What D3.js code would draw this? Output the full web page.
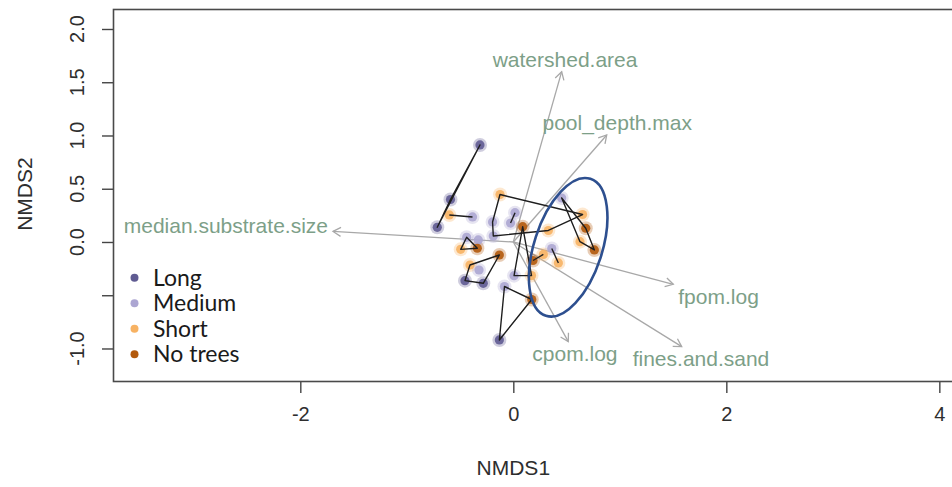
<!DOCTYPE html>
<html>
<head>
<meta charset="utf-8">
<script src="https://cdn.jsdelivr.net/npm/d3@7"></script>
<style>
  body { margin: 0; background: #fff; }
  svg { display: block; }
</style>
</head>
<body>
<script>
// site scores (NMDS1, NMDS2) and their canopy group
const siteX = [-0.313, -0.590, -0.714, -0.601, -0.383, -0.125, 0.016, -0.026, -0.195, -0.188,
               0.088, 0.454, 0.650, 0.680, 0.626, 0.761, 0.329, -0.438, -0.329, -0.494,
               -0.338, -0.407, -0.131, -0.322, -0.454, -0.282, 0.361, 0.423, 0.282, 0.185,
               0.007, 0.171, -0.083, -0.131, 0.173];
const siteY = [0.911, 0.399, 0.138, 0.254, 0.235, 0.446, 0.275, 0.178, 0.188, 0.056,
               0.144, 0.413, 0.258, 0.129, 0.003, -0.075, 0.108, 0.044, 0.019, -0.069,
               -0.059, -0.216, -0.122, -0.263, -0.363, -0.388, -0.061, -0.197, -0.117, -0.174,
               -0.316, -0.315, -0.418, -0.920, -0.540];
const siteGroup = ["Long", "Long", "Long", "Short", "Medium", "Short", "Medium", "Medium", "Medium", "Medium",
                   "No trees", "Medium", "Short", "No trees", "Short", "No trees", "Short", "Medium", "Medium", "Short",
                   "No trees", "Short", "No trees", "Medium", "Long", "Long", "Medium", "Short", "Short", "No trees",
                   "Medium", "Short", "Medium", "Long", "No trees"];
// hulls joining samples from the same stream
const hulls = [[0, 1, 2], [3, 4], [6, 7], [5, 12, 16, 9, 8], [11, 13, 15, 14],
               [10, 30, 31], [19, 20, 17], [21, 22, 25, 24], [32, 33, 34], [26, 27], [28, 29]];

// envfit vectors
const vecNames = ["watershed.area", "pool_depth.max", "median.substrate.size", "fpom.log", "fines.and.sand", "cpom.log"];
const vecX = [0.454, 0.877, -1.693, 1.502, 1.581, 0.516];
const vecY = [1.599, 1.005, 0.099, -0.397, -0.983, -0.936];

const groups = ["Long", "Medium", "Short", "No trees"];
const xTicks = [-2, 0, 2, 4];
const yTicks = [-1, -0.5, 0, 0.5, 1, 1.5, 2];
const yTickLabels = ["-1.0", "", "0.0", "0.5", "1.0", "1.5", "2.0"];

const W = 952, H = 487;
const box = {left: 113.5, right: 960, top: 9.5, bottom: 381.5};
const xLim = [-3.754, 4.194], yLim = [-1.31, 2.183];
const colour = d3.scaleOrdinal().domain(groups).range(["#5f5b92", "#aca6d2", "#f7b263", "#b35a0c"]);

const svg = d3.select("body").append("svg").attr("width", W).attr("height", H);
const x = d3.scaleLinear().domain(xLim).range([box.left, box.right]);
const y = d3.scaleLinear().domain(yLim).range([box.bottom, box.top]);

const axisFont = "'Liberation Sans', Arial, sans-serif";

// x axis
const gx = svg.append("g").attr("transform", `translate(0,${box.bottom})`)
  .call(d3.axisBottom(x).tickValues(xTicks).tickFormat(d => d).tickSize(11.5).tickPadding(14));
gx.select(".domain").remove();
gx.selectAll("line").attr("stroke", "#444").attr("stroke-width", 1.4);
gx.selectAll("text").attr("font-family", axisFont).attr("font-size", 20).attr("fill", "#2e2e2e");

// y axis, labels parallel to the axis like R
const gy = svg.append("g").attr("transform", `translate(${box.left},0)`)
  .call(d3.axisLeft(y).tickValues(yTicks).tickFormat("").tickSize(11.5));
gy.select(".domain").remove();
gy.selectAll("line").attr("stroke", "#444").attr("stroke-width", 1.4);
svg.append("g").selectAll("text").data(yTicks).join("text")
  .attr("transform", d => `translate(77,${y(d)}) rotate(-90)`)
  .attr("text-anchor", "middle").attr("dy", "0.35em")
  .attr("font-family", axisFont).attr("font-size", 20).attr("fill", "#2e2e2e")
  .text((d, i) => yTickLabels[i]);

// axis titles
svg.append("text").attr("x", x(0)).attr("y", 468).attr("dy", "0.35em")
  .attr("text-anchor", "middle").attr("font-family", axisFont).attr("font-size", 21).attr("fill", "#2e2e2e")
  .text("NMDS1");
svg.append("text").attr("transform", `translate(25,${y(0.45)}) rotate(-90)`).attr("dy", "0.35em")
  .attr("text-anchor", "middle").attr("font-family", axisFont).attr("font-size", 21).attr("fill", "#2e2e2e")
  .text("NMDS2");

// plot region
const plot = svg.append("g");
svg.append("defs").append("clipPath").attr("id", "clip")
  .append("rect").attr("x", box.left).attr("y", box.top)
  .attr("width", box.right - box.left).attr("height", box.bottom - box.top);
plot.attr("clip-path", "url(#clip)");

// arrows
const vecs = vecNames.map((n, i) => ({name: n, vx: vecX[i], vy: vecY[i]}));
const ox = x(0), oy = y(0);
const arrowG = plot.append("g").attr("stroke", "#a8a8a8").attr("stroke-width", 1.3).attr("fill", "none");
vecs.forEach(v => {
  const tx = x(v.vx), ty = y(v.vy);
  const a = Math.atan2(ty - oy, tx - ox), L = 9, s = Math.PI / 6;
  arrowG.append("line").attr("x1", ox).attr("y1", oy).attr("x2", tx).attr("y2", ty);
  arrowG.append("path").attr("d",
    `M${tx - L * Math.cos(a - s)},${ty - L * Math.sin(a - s)}L${tx},${ty}L${tx - L * Math.cos(a + s)},${ty - L * Math.sin(a + s)}`);
});

// site points with a soft halo
const sites = siteX.map((d, i) => ({x: d, y: siteY[i], g: siteGroup[i]}));
plot.append("g").selectAll("circle").data(sites).join("circle")
  .attr("cx", d => x(d.x)).attr("cy", d => y(d.y)).attr("r", 7)
  .attr("fill", d => colour(d.g)).attr("opacity", 0.3);
plot.append("g").selectAll("circle").data(sites).join("circle")
  .attr("cx", d => x(d.x)).attr("cy", d => y(d.y)).attr("r", 4.6)
  .attr("fill", d => colour(d.g)).attr("opacity", 0.9);

// hulls
plot.append("g").selectAll("path").data(hulls).join("path")
  .attr("d", h => d3.line()(h.map(i => [x(siteX[i]), y(siteY[i])])) + (h.length > 2 ? "Z" : ""))
  .attr("fill", "none").attr("stroke", "#1e1e1e").attr("stroke-width", 1.4).attr("stroke-linejoin", "round");

// vector labels, pushed out beyond the arrow tip
const lab = svg.append("g");
vecs.forEach(v => {
  const tx = x(v.vx), ty = y(v.vy);
  const t = lab.append("text").attr("font-family", axisFont).attr("font-size", 21)
    .attr("fill", "#7d9f88").attr("text-anchor", "middle").attr("dy", "0.35em").text(v.name);
  const w = t.node().getComputedTextLength();
  const len = Math.hypot(tx - ox, ty - oy), dx = (tx - ox) / len, dy = (ty - oy) / len;
  const k = Math.min((w / 2 + 5) / Math.max(Math.abs(dx), 1e-6), 12 / Math.max(Math.abs(dy), 1e-6));
  t.attr("x", tx + dx * k).attr("y", ty + dy * k);
});

// highlighted cluster
const ell = {cx: 0.515, cy: -0.050};
svg.append("ellipse").attr("cx", x(ell.cx)).attr("cy", y(ell.cy)).attr("rx", 34).attr("ry", 72)
  .attr("transform", `rotate(18,${x(ell.cx)},${y(ell.cy)})`)
  .attr("fill", "none").attr("stroke", "#2d4f8f").attr("stroke-width", 2.6);

// legend
const leg = svg.append("g").selectAll("g").data(groups).join("g")
  .attr("transform", (d, i) => `translate(134.5,${277.7 + i * 25.5})`);
leg.append("circle").attr("r", 4).attr("fill", d => colour(d));
leg.append("text").attr("x", 18.5).attr("dy", "0.36em")
  .attr("font-family", "Lato, 'Open Sans', sans-serif").attr("font-size", 23).attr("fill", "#1a1a1a")
  .text(d => d);

// frame
svg.append("rect").attr("x", box.left).attr("y", box.top)
  .attr("width", box.right - box.left).attr("height", box.bottom - box.top)
  .attr("fill", "none").attr("stroke", "#4a4a4a").attr("stroke-width", 1.6);
</script>
</body>
</html>
